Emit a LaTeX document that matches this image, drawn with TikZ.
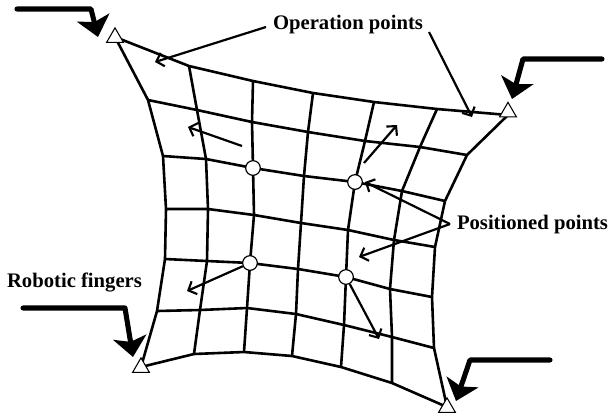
\documentclass[tikz,border=0pt]{standalone}
\usepackage{fontspec}
\setmainfont{Liberation Serif}
\usetikzlibrary{arrows.meta,shapes.geometric}
\tikzset{
  x=0.75pt,y=-0.75pt,
  meshline/.style={line width=1.95pt,line join=round},
  thinarrow/.style={line width=1.65pt,-{Straight Barb[length=5pt,width=10.5pt,line width=1.6pt]}},
  fingerarrow/.style={line width=3.8pt,line cap=round,line join=round,-{Stealth[length=15pt,width=25pt,inset=3.5pt,line cap=butt]}},
  opoint/.style={regular polygon,regular polygon sides=3,draw,fill=white,line width=0.8pt,minimum size=14.5pt,inner sep=0pt},
  ppoint/.style={circle,draw,fill=white,line width=0.9pt,minimum size=11pt,inner sep=0pt},
  lab/.style={font=\bfseries\fontsize{15.5pt}{17pt}\selectfont,inner sep=0pt}
}
\begin{document}
\begin{tikzpicture}
\useasboundingbox (0,0) rectangle (610,419);
% mesh coordinates
\coordinate (g00) at (115,37);\coordinate (g01) at (189,66);\coordinate (g02) at (253,81);\coordinate (g03) at (313,93);\coordinate (g04) at (374,102);\coordinate (g05) at (437,109);\coordinate (g06) at (508,115);
\coordinate (g10) at (148,100);\coordinate (g11) at (197,110);\coordinate (g12) at (252,122);\coordinate (g13) at (308,132);\coordinate (g14) at (365,141);\coordinate (g15) at (420,147);\coordinate (g16) at (467,155);
\coordinate (g20) at (163,156);\coordinate (g21) at (206,159);\coordinate (g22) at (253,168);\coordinate (g23) at (304,176);\coordinate (g24) at (355,182);\coordinate (g25) at (402,191);\coordinate (g26) at (445,201);
\coordinate (g30) at (166,209);\coordinate (g31) at (208,209);\coordinate (g32) at (254,215);\coordinate (g33) at (301,223);\coordinate (g34) at (348,230);\coordinate (g35) at (394,240);\coordinate (g36) at (435,247);
\coordinate (g40) at (165,259);\coordinate (g41) at (207,261);\coordinate (g42) at (250,263);\coordinate (g43) at (298,269);\coordinate (g44) at (346,277);\coordinate (g45) at (390,289);\coordinate (g46) at (432,297);
\coordinate (g50) at (157,311);\coordinate (g51) at (200,310);\coordinate (g52) at (247,308);\coordinate (g53) at (296,314);\coordinate (g54) at (344,325);\coordinate (g55) at (392,337);\coordinate (g56) at (434,348);
\coordinate (g60) at (141,367);\coordinate (g61) at (194,354);\coordinate (g62) at (244,352);\coordinate (g63) at (292,356);\coordinate (g64) at (341,367);\coordinate (g65) at (392,383);\coordinate (g66) at (447,407);
% mesh
\foreach \r in {0,...,6}{
  \draw[meshline] (g\r0) -- (g\r1) -- (g\r2) -- (g\r3) -- (g\r4) -- (g\r5) -- (g\r6);
  \draw[meshline] (g0\r) -- (g1\r) -- (g2\r) -- (g3\r) -- (g4\r) -- (g5\r) -- (g6\r);
}
% operation points
\node[opoint] (tl) at (115,37.5) {};
\node[opoint] (tr) at (508,112) {};
\node[opoint] (bl) at (141,367.5) {};
\node[opoint] (br) at (447,407.5) {};
% positioned points
\node[ppoint] (p1) at (g22) {};
\node[ppoint] (p2) at (g24) {};
\node[ppoint] (p3) at (g42) {};
\node[ppoint] (p4) at (g44) {};
% labels
\node[lab] (op) at (348,25) {Operation points};
\node[lab] (pos) at (532.5,225) {Positioned points};
\node[lab] (rob) at (74.5,282) {Robotic fingers};
% label arrows
\coordinate (opl) at (266,27);\coordinate (opl2) at (155,62);
\coordinate (opr) at (429,32);\coordinate (opr2) at (472,117);
\coordinate (posT) at (450,224);\coordinate (pos2) at (359,257);\coordinate (pos1) at (365,182);
\draw[thinarrow] (opl) -- (opl2);
\draw[thinarrow] (opr) -- (opr2);
\draw[thinarrow] (posT) -- (pos1);
\draw[thinarrow] (posT) -- (pos2);
% displacement arrows
\coordinate (a1s) at (242,146);\coordinate (a1e) at (188,127);
\coordinate (a2s) at (364,163);\coordinate (a2e) at (397,125);
\coordinate (a3e) at (187,291);\coordinate (a4e) at (379,339);
\draw[thinarrow] (a1s) -- (a1e);
\draw[thinarrow] (a2s) -- (a2e);
\draw[thinarrow] (p3) -- (a3e);
\draw[thinarrow] (p4) -- (a4e);
% robotic fingers
\coordinate (f1a) at (17,9);\coordinate (f1b) at (91,9);\coordinate (f1c) at (98,37);
\coordinate (f2a) at (602,59);\coordinate (f2b) at (523,59);\coordinate (f2c) at (512,99);
\coordinate (f3a) at (23,308);\coordinate (f3b) at (125,308);\coordinate (f3c) at (133,357);
\coordinate (f4a) at (550,360);\coordinate (f4b) at (470,360);\coordinate (f4c) at (456,401);
\draw[fingerarrow] (f1a) -- (f1b) -- (f1c);
\draw[fingerarrow] (f2a) -- (f2b) -- (f2c);
\draw[fingerarrow] (f3a) -- (f3b) -- (f3c);
\draw[fingerarrow] (f4a) -- (f4b) -- (f4c);
\end{tikzpicture}
\end{document}
